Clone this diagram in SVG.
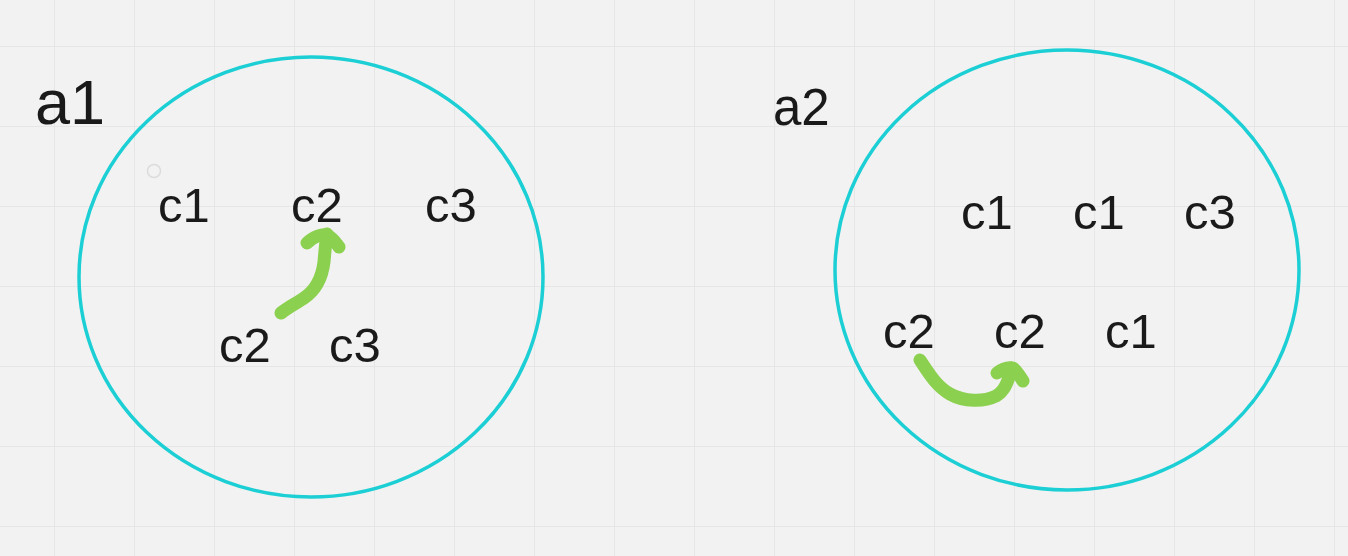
<svg xmlns="http://www.w3.org/2000/svg" width="1348" height="556" viewBox="0 0 1348 556">
<defs>
<pattern id="grid" x="54" y="46" width="80" height="80" patternUnits="userSpaceOnUse">
<path d="M0.5 0 V80 M0 0.5 H80" fill="none" stroke="#e6e6e6" stroke-width="1"/>
</pattern>
<style>
.set{fill:none;stroke:#1ccfd5;stroke-width:3.5}
.lbl{font-family:"Liberation Sans",Arial,sans-serif;fill:#1a1a1a}
.c{font-size:49px}
.arr{fill:none;stroke:#8bd14f;stroke-width:13;stroke-linecap:round;stroke-linejoin:round}
</style>
</defs>
<rect width="1348" height="556" fill="#f2f2f2"/>
<rect width="1348" height="556" fill="url(#grid)"/>
<circle cx="154" cy="171" r="6.5" fill="none" stroke="#dcdcdc" stroke-width="1.5"/>
<g id="a1">
<ellipse class="set" cx="311" cy="277" rx="232" ry="220"/>
<text class="lbl" x="35" y="124" font-size="63">a1</text>
<text class="lbl c" x="158" y="222">c1</text>
<text class="lbl c" x="291" y="222">c2</text>
<text class="lbl c" x="425" y="222">c3</text>
<text class="lbl c" x="219" y="362">c2</text>
<text class="lbl c" x="329" y="362">c3</text>
</g>
<g id="a2">
<ellipse class="set" cx="1067" cy="270" rx="232" ry="220"/>
<text class="lbl" x="773" y="125" font-size="51">a2</text>
<text class="lbl c" x="961" y="229">c1</text>
<text class="lbl c" x="1073" y="229">c1</text>
<text class="lbl c" x="1184" y="229">c3</text>
<text class="lbl c" x="883" y="348">c2</text>
<text class="lbl c" x="994" y="348">c2</text>
<text class="lbl c" x="1105" y="348">c1</text>
</g>
<g id="connectors">
<path class="arr" d="M281 313 C290 306 297 303 304 298 C316 290 322 278 324 262 C325 250 326 240 327 234"/>
<path class="arr" d="M307 243 C314 236 322 234 327 235 C333 238 336 243 339 247"/>
<path class="arr" d="M920 360 C928 372 936 386 950 394 C964 402 984 402 996 396 C1005 391 1009 380 1011 368"/>
<path class="arr" d="M997 373 C1002 369 1008 367 1013 368 C1018 372 1020 377 1023 381"/>
</g>
</svg>
